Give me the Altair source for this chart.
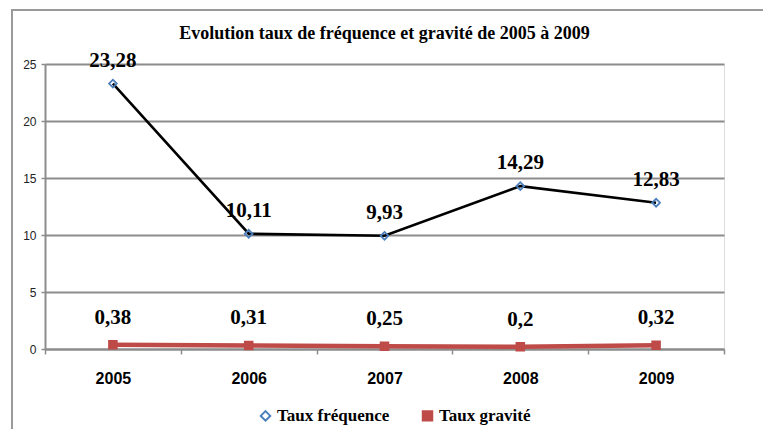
import altair as alt
import pandas as pd

years = ["2005", "2006", "2007", "2008", "2009"]
freq = [23.28, 10.11, 9.93, 14.29, 12.83]
grav = [0.38, 0.31, 0.25, 0.2, 0.32]
series = ["Taux fréquence", "Taux gravité"]
title_text = "Evolution taux de fréquence et gravité de 2005 à 2009"
y_ticks = [0, 5, 10, 15, 20, 25]

rows = []
for s, vals in zip(series, [freq, grav]):
    for yr, v in zip(years, vals):
        rows.append({"year": yr, "value": v, "series": s,
                     "label": f"{v:g}".replace(".", ",")})
df = pd.DataFrame(rows)

RED = "#be4b48"
BLUE = "#4a7ebb"
GRID = "#8c8c8c"
SERIF = "Liberation Serif"

x_enc = alt.X("year:N",
              scale=alt.Scale(type="band", paddingInner=0, paddingOuter=0),
              bandPosition=0.5,
              axis=alt.Axis(title=None, tickBand="extent", labelAngle=0,
                            labelFont="'Liberation Sans Narrow', 'Liberation Sans', sans-serif",
                            labelFontSize=16, labelFontWeight="bold", labelColor="black",
                            labelPadding=16, tickSize=5, tickColor=GRID, tickWidth=1.5,
                            domainColor=GRID, domainWidth=2, grid=False))
y_enc = alt.Y("value:Q",
              scale=alt.Scale(domain=[0, 25], nice=False),
              axis=alt.Axis(title=None, values=y_ticks, grid=True, gridColor=GRID,
                            gridWidth=2, labelFont="Liberation Sans", labelFontSize=12,
                            labelColor="#222222", labelPadding=5, tickSize=4,
                            tickColor=GRID, tickWidth=1.5, domainColor=GRID, domainWidth=2))

base = alt.Chart(df)

frame = alt.Chart(pd.DataFrame({"f": [0]})).mark_rect(
    fillOpacity=0, stroke="#9a9a9a", strokeWidth=2
).encode(x=alt.value(-33), x2=alt.value(720), y=alt.value(-54), y2=alt.value(420))

line_f = base.transform_filter(alt.datum.series == series[0]).mark_line(
    color="black", strokeWidth=2.6).encode(x=x_enc, y=y_enc)
line_g = base.transform_filter(alt.datum.series == series[1]).mark_line(
    color=RED, strokeWidth=4.5).encode(x=x_enc, y=y_enc)

leg = alt.Legend(orient="none", legendX=212, legendY=343, direction="horizontal", title=None)

points = base.mark_point(size=60, strokeWidth=1.8, filled=True, opacity=1).encode(
    x=x_enc, y=y_enc,
    shape=alt.Shape("series:N", scale=alt.Scale(domain=series, range=["diamond", "square"]), legend=leg),
    stroke=alt.Stroke("series:N", scale=alt.Scale(domain=series, range=[BLUE, RED]), legend=leg),
    fill=alt.Fill("series:N", scale=alt.Scale(domain=series, range=["rgba(255,255,255,0)", RED]), legend=leg),
)

txt_f = base.transform_filter(alt.datum.series == series[0]).mark_text(
    font=SERIF, fontSize=21, fontWeight="bold", baseline="alphabetic", dy=-17, color="black"
).encode(x=x_enc, y=y_enc, text="label:N")

txt_g = base.transform_filter(alt.datum.series == series[1]).mark_text(
    font=SERIF, fontSize=21, fontWeight="bold", baseline="alphabetic", dy=-21, color="black"
).encode(x=x_enc, y=y_enc, text="label:N")

chart = alt.layer(frame, line_f, line_g, points, txt_f, txt_g).properties(
    width=679, height=285,
    title=alt.TitleParams(text=title_text, font=SERIF, fontSize=18, fontWeight="bold",
                          anchor="middle", frame="group", offset=-30, dy=22, baseline="bottom",
                          color="black"),
    autosize="none",
    padding={"left": 37, "top": 56, "right": 39, "bottom": 80},
).configure_view(stroke=None).configure(background="white", font=SERIF).configure_legend(
    labelFont=SERIF, labelFontSize=17, labelFontWeight="bold", labelColor="black",
    symbolSize=90, symbolStrokeWidth=2, columnPadding=28, labelLimit=0, labelOffset=3
)

chart.save("out.html", embed_options={"renderer": "svg", "actions": False})
